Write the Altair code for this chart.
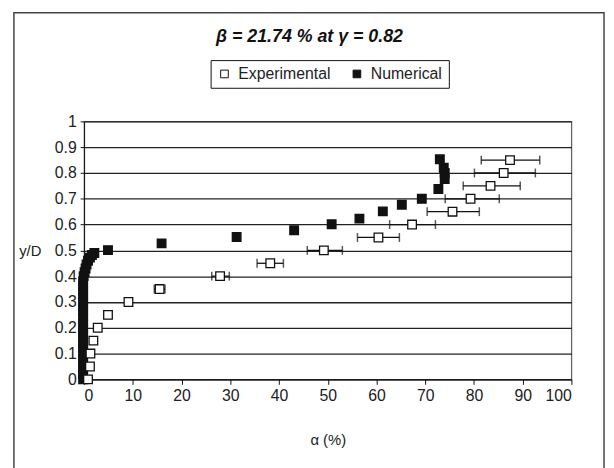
import altair as alt
import pandas as pd

# Experimental (open squares)
exp_y = [0.0, 0.05, 0.10, 0.15, 0.20, 0.25, 0.30, 0.35, 0.40, 0.45, 0.50, 0.55, 0.60, 0.65, 0.70, 0.75, 0.80, 0.85]
exp_a = [0.8, 1.2, 1.3, 1.9, 2.8, 4.9, 9.1, 15.5, 27.9, 38.2, 49.2, 60.4, 67.3, 75.6, 79.3, 83.4, 86.1, 87.4]

# Error bars of experimental points (y >= 0.25)
err_y = [0.25, 0.30, 0.35, 0.40, 0.45, 0.50, 0.55, 0.60, 0.65, 0.70, 0.75, 0.80, 0.85]
err_lo = [4.6, 8.7, 14.4, 26.2, 35.5, 45.8, 56.1, 62.7, 70.4, 74.1, 77.8, 80.1, 81.5]
err_hi = [5.2, 9.5, 16.6, 29.8, 40.9, 53.0, 64.7, 72.1, 81.1, 85.2, 89.5, 92.6, 93.5]

# Numerical (filled squares)
num_y = [0.00, 0.02, 0.04, 0.06, 0.08, 0.10, 0.12, 0.14, 0.16, 0.18,
         0.20, 0.22, 0.24, 0.26, 0.28, 0.30, 0.32, 0.34, 0.36, 0.38,
         0.40, 0.415, 0.43, 0.445, 0.46, 0.472, 0.482, 0.49,
         0.501, 0.527, 0.552, 0.578, 0.601, 0.623, 0.651, 0.677, 0.70,
         0.738, 0.776, 0.80, 0.82, 0.853]
num_a = [-0.2, -0.2, -0.2, -0.2, -0.2, -0.2, -0.2, -0.2, -0.2, -0.2,
         -0.2, -0.2, -0.2, -0.2, -0.2, -0.2, -0.2, -0.2, -0.2, -0.2,
         -0.1, 0.1, 0.3, 0.5, 0.8, 1.2, 1.6, 2.1,
         4.9, 15.9, 31.3, 43.1, 50.8, 56.5, 61.3, 65.2, 69.3,
         72.7, 74.0, 74.0, 73.8, 73.0]

series = ["Experimental", "Numerical"]
title_text = "β  = 21.74 % at  γ = 0.82"
x_ticks = list(range(0, 101, 10))
y_ticks = [i / 10 for i in range(0, 11)]

FONT = "Liberation Sans"
W, H = 493, 261

pts = pd.DataFrame({
    "a": num_a + exp_a,
    "y": num_y + exp_y,
    "series": ["Numerical"] * len(num_a) + ["Experimental"] * len(exp_a),
    "order": list(range(len(num_a) + len(exp_a))),
})
err = pd.DataFrame({"y": err_y, "lo": err_lo, "hi": err_hi})

xs = alt.Scale(domain=[0, 100], nice=False, zero=False)
ys = alt.Scale(domain=[0, 1], nice=False, zero=False)

x_axis = alt.Axis(values=x_ticks, grid=False, tickSize=5, tickColor="#111", domainColor="#111",
                  labelPadding=3, labelFont=FONT, labelFontSize=16, labelColor="#222",
                  title="α (%)", titleFont=FONT, titleFontSize=15, titleFontWeight="normal",
                  titleColor="#222", titleY=54)
y_axis = alt.Axis(values=y_ticks, format="~g", grid=True, gridColor="#222", gridWidth=1.3,
                  tickSize=4, tickColor="#111", domainColor="#111", labelPadding=4,
                  labelFont=FONT, labelFontSize=16, labelColor="#222", labelOverlap=False,
                  title="y/D", titleAngle=0, titleX=-55, titleY=131, titleAlign="center",
                  titleBaseline="middle", titleFont=FONT, titleFontSize=15,
                  titleFontWeight="normal", titleColor="#222")


def X(field):
    return alt.X(field, scale=xs, axis=x_axis)


def Y(field):
    return alt.Y(field, scale=ys, axis=y_axis)


border = alt.Chart(pd.DataFrame({"k": [0]})).mark_rect(
    fill="transparent", stroke="#444", strokeWidth=1.5
).encode(x=alt.value(-71), x2=alt.value(526), y=alt.value(-110), y2=alt.value(360))

rules = alt.Chart(err).mark_rule(color="#111", strokeWidth=1.3).encode(
    x=X("lo:Q"), x2="hi:Q", y=Y("y:Q"))
caps_lo = alt.Chart(err).mark_tick(orient="vertical", size=9, thickness=1.5, color="#111").encode(
    x=X("lo:Q"), y=Y("y:Q"))
caps_hi = alt.Chart(err).mark_tick(orient="vertical", size=9, thickness=1.5, color="#111").encode(
    x=X("hi:Q"), y=Y("y:Q"))

points = alt.Chart(pts).mark_square(size=76, stroke="#111", strokeWidth=1.3, opacity=1).encode(
    x=X("a:Q"),
    y=Y("y:Q"),
    fill=alt.Fill("series:N", scale=alt.Scale(domain=series, range=["white", "#111"]),
                  legend=alt.Legend(title=None, orient="none", legendX=128, legendY=-62,
                                    direction="horizontal", strokeColor="#111", fillColor="white",
                                    padding=6, labelFont=FONT, labelFontSize=16, labelColor="#222",
                                    symbolType="square", symbolSize=60, symbolStrokeColor="#111",
                                    symbolStrokeWidth=1, labelOffset=6, columnPadding=18)),
    order=alt.Order("order:Q"),
)

title = alt.Chart(pd.DataFrame({"t": [title_text]})).mark_text(
    font=FONT, fontSize=18, fontWeight="bold", fontStyle="italic", color="#111",
    align="center", baseline="middle"
).encode(x=alt.value(228), y=alt.value(-85), text="t:N")

chart = alt.layer(border, rules, caps_lo, caps_hi, points, title).properties(
    width=W, height=H,
    autosize=alt.AutoSizeParams(type="none"),
    padding={"left": 77, "top": 112, "right": 35, "bottom": 90},
).configure_view(stroke="#666", strokeWidth=1.3)

chart.save("out.html", embed_options={"renderer": "svg", "actions": False})
